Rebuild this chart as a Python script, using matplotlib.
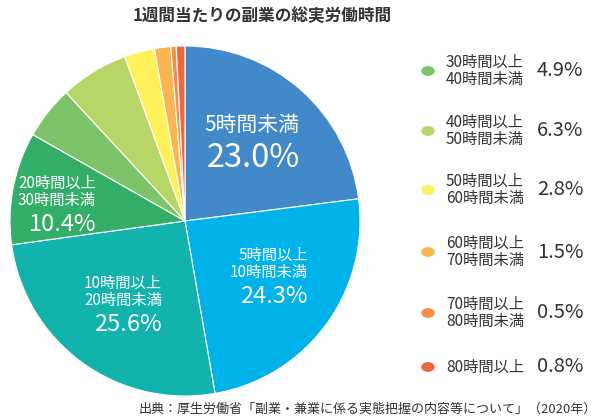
import matplotlib.pyplot as plt

plt.rcParams['font.family'] = ['Noto Sans CJK JP', 'DejaVu Sans']

labels = ['5時間未満', '5時間以上\n10時間未満', '10時間以上\n20時間未満', '20時間以上\n30時間未満',
          '30時間以上\n40時間未満', '40時間以上\n50時間未満', '50時間以上\n60時間未満',
          '60時間以上\n70時間未満', '70時間以上\n80時間未満', '80時間以上']
values = [23.0, 24.3, 25.6, 10.4, 4.9, 6.3, 2.8, 1.5, 0.5, 0.8]
colors = ['#4189c9', '#00b2ea', '#12b2ad', '#33ae68', '#7dc36a',
          '#b8d568', '#fff159', '#f8b550', '#f19148', '#ec6841']

W, H = 600, 420
fig = plt.figure(figsize=(W / 100, H / 100), dpi=100)

# pie centre and radius in pixels
cx, cy, r = 185, 221, 175
ax = fig.add_axes([(cx - r) / W, (H - cy - r) / H, 2 * r / W, 2 * r / H])
wedges, _ = ax.pie(values, colors=colors, startangle=90, counterclock=False,
                   wedgeprops=dict(edgecolor='white', linewidth=0.8))
ax.set_xlim(-1, 1)
ax.set_ylim(-1, 1)
ax.set_aspect('equal')
ax.axis('off')

# in-pie label anchors (right edge x, first line y) in pie units
anchors = [(0.657, 0.549), (0.703, -0.194), (-0.131, -0.354), (-0.509, 0.217)]
for i, (x, y) in enumerate(anchors):
    lines = labels[i].split('\n')
    fs = 15 if i == 0 else 11
    for j, line in enumerate(lines):
        ax.text(x, y - j * 0.1, line, ha='right', va='center', color='white', fontsize=fs)
    if i == 0:
        ax.text(x, y - 0.19, f'{values[i]:.1f}%', ha='right', va='center', color='white', fontsize=23.5)
    else:
        ax.text(x, y - 0.1 * (len(lines) - 1) - 0.135, f'{values[i]:.1f}%', ha='right', va='center',
                color='white', fontsize=17)

# legend for the small slices
leg_y = [71, 131, 190, 252, 313, 367]
for k, yy in enumerate(leg_y):
    i = 4 + k
    fig.patches.append(plt.Circle((428 / W, 1 - yy / H), 6 / W, transform=fig.transFigure,
                                  color=colors[i]))
    fig.text(446 / W, 1 - yy / H, labels[i], ha='left', va='center', fontsize=11,
             color='#333333', linespacing=1.05)
    fig.text(537 / W, 1 - yy / H, f'{values[i]:.1f}%', ha='left', va='center', fontsize=14.5,
             color='#333333')

fig.text(262 / W, 1 - 16 / H, '1週間当たりの副業の総実労働時間', ha='center', va='center',
         fontsize=12, fontweight='bold', color='#333333')
fig.text(597 / W, 1 - 409 / H, '出典：厚生労働省「副業・兼業に係る実態把握の内容等について」（2020年）',
         ha='right', va='center', fontsize=9.4, color='#333333')

fig.savefig('out.png', dpi=100)
